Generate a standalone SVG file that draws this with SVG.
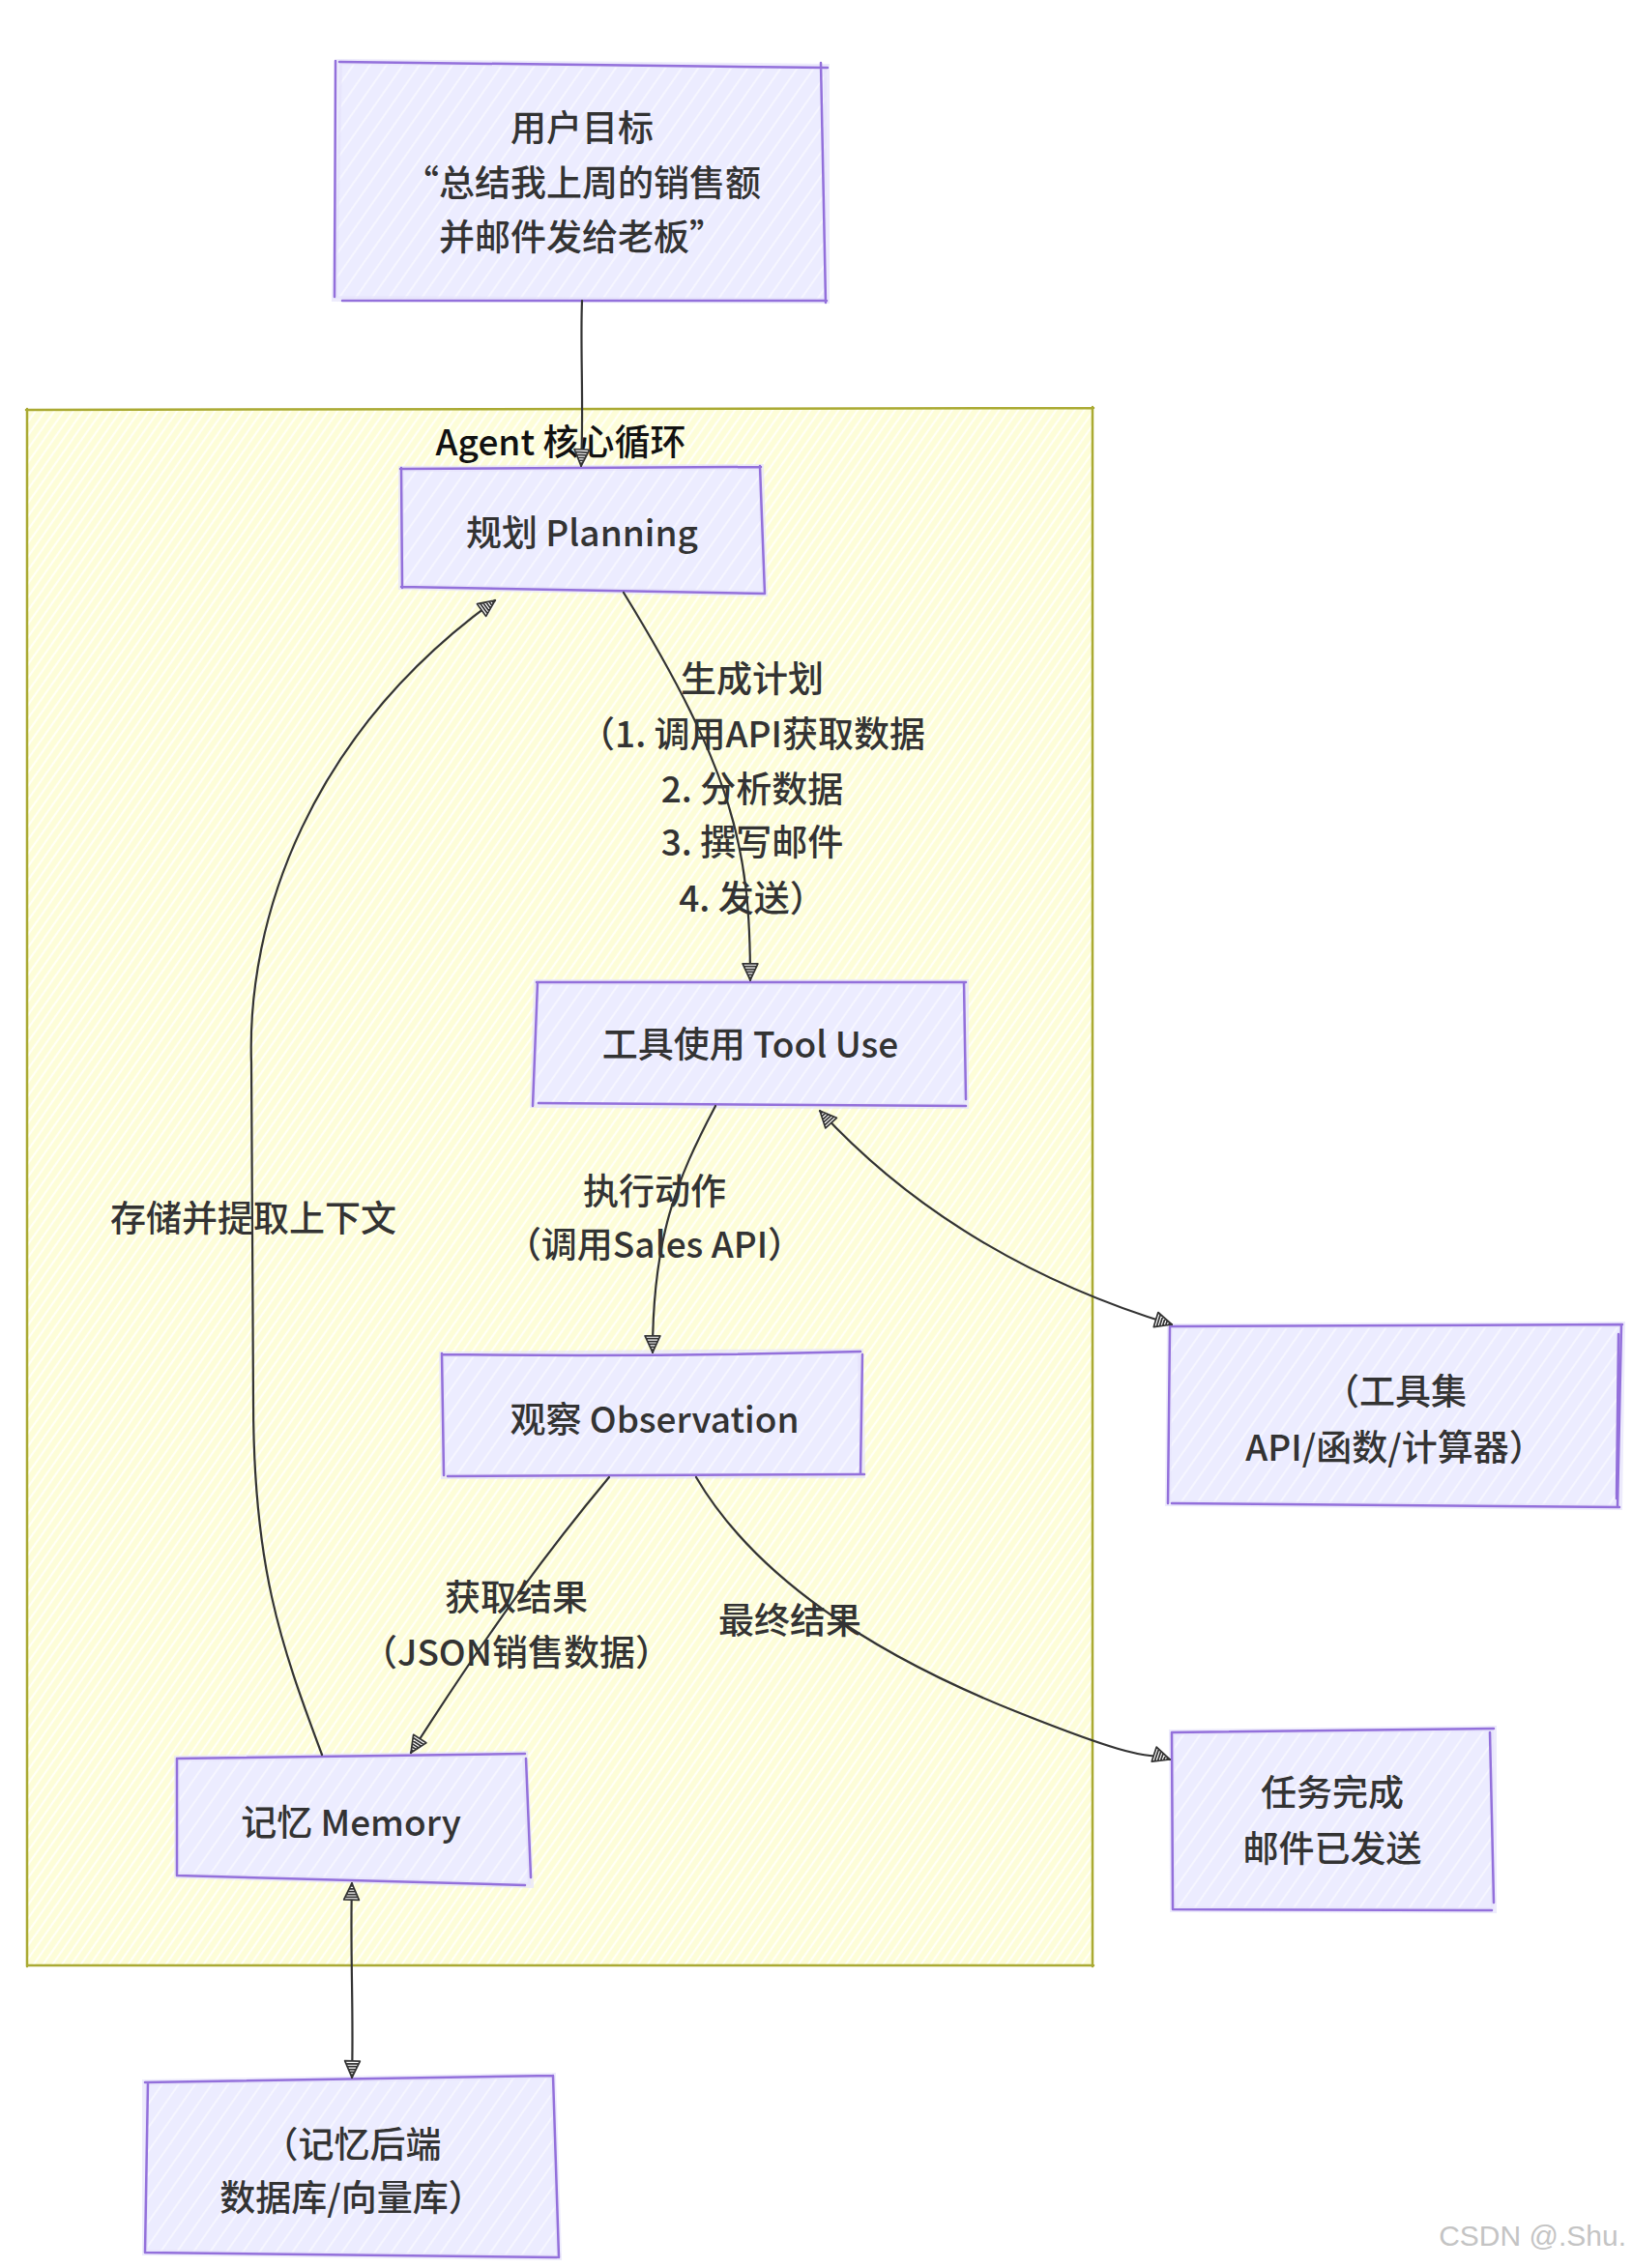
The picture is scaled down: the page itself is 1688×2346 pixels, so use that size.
<svg xmlns="http://www.w3.org/2000/svg" width="1688" height="2346" viewBox="0 0 1688 2346">
<style>
text{font-family:"Noto Sans CJK SC","Noto Sans",sans-serif;font-size:37px;font-weight:500;fill:#333;text-anchor:middle;dominant-baseline:central}
.title{fill:#111}
.nf{fill:url(#hN);stroke:#E6E2FB;stroke-width:6;stroke-opacity:.7}
.nb{fill:none;stroke:#9370DB;stroke-width:2.5;stroke-linecap:round}
.edge{fill:none;stroke:#333;stroke-width:2.2;stroke-linecap:round}
.wm{font-family:"Liberation Sans",sans-serif;font-size:30px;font-weight:400;fill:#c4c4c4;text-anchor:end}
</style>
<defs>
<pattern id="hN" patternUnits="userSpaceOnUse" width="14" height="14" patternTransform="rotate(35)">
<rect width="14" height="14" fill="#ECECFF"/>
<line x1="2" y1="0" x2="2" y2="14" stroke="#fff" stroke-width="2" opacity=".55"/>
</pattern>
<pattern id="hC" patternUnits="userSpaceOnUse" width="8" height="8" patternTransform="rotate(35)">
<rect width="8" height="8" fill="#fdfdd8"/>
<line x1="2" y1="0" x2="2" y2="8" stroke="#fff" stroke-width="2.2" opacity=".8"/>
</pattern>
<marker id="ah" viewBox="0 0 14 14" refX="13" refY="7" markerWidth="20" markerHeight="20" markerUnits="userSpaceOnUse" orient="auto-start-reverse">
<path d="M1,1.5 L13,7 L1,12.5 Z M3,2.5 L3,11.5 M5,3.3 L5,10.7 M7,4.2 L7,9.8 M9,5.2 L9,8.8 M11,6.1 L11,7.9" fill="#fff" stroke="#333" stroke-width="1.2" stroke-linejoin="round"/>
</marker>
</defs>
<rect width="1688" height="2346" fill="#fff"/>

<g id="cluster-agent">
<path d="M28,424 L1130,422 L1131,2033 L29,2034 Z" fill="url(#hC)"/>
<path d="M27,424 L1131,422 M1130,421 L1130,2034 M1131,2033 L29,2033 M28,2034 L28,423" fill="none" stroke="#aaaa33" stroke-width="2.5" stroke-linecap="round"/>
<text class="title" x="580" y="455">Agent 核心循环</text>
</g>

<g id="node-goal">
<path class="nf" d="M351,64 L855,69 L855,311 L346,309 Z"/>
<path class="nb" d="M351,64 L856,70 M849,65 L854,313 M354,311 L855,311 M347,63 L346,307"/>
<text x="602" y="130">用户目标</text>
<text x="602" y="187">“总结我上周的销售额</text>
<text x="602" y="243">并邮件发给老板”</text>
</g>

<g id="node-planning">
<path class="nf" d="M415,485 L787,483 L791,614 L415,607 Z"/>
<path class="nb" d="M414,485 L787,483 M786,482 L791,614 M415,607 L791,614 M415,484 L416,608"/>
<text x="602" y="549">规划 Planning</text>
</g>

<g id="node-tooluse">
<path class="nf" d="M555,1016 L999,1016 L999,1144 L551,1143 Z"/>
<path class="nb" d="M555,1016 L999,1016 M556,1016 L551,1144 M557,1141 L999,1144 M997,1016 L999,1137"/>
<text x="776" y="1078">工具使用 Tool Use</text>
</g>

<g id="node-observation">
<path class="nf" d="M457,1401 L890,1398 L892,1526 L459,1527 Z"/>
<path class="nb" d="M457,1401 Q670,1404 890,1398 M457,1400 L459,1526 M463,1527 L894,1525 M892,1401 L890,1525"/>
<text x="677" y="1466">观察 Observation</text>
</g>

<g id="node-memory">
<path class="nf" d="M183,1819 L543,1814 L549,1950 L183,1940 Z"/>
<path class="nb" d="M183,1819 L543,1814 M183,1819 L183,1940 M183,1940 L543,1950 M544,1819 L549,1942"/>
<text x="363" y="1883">记忆 Memory</text>
</g>

<g id="node-backend">
<path class="nf" d="M150,2154 L572,2147 L578,2335 L150,2330 Z"/>
<path class="nb" d="M150,2154 L572,2147 M153,2154 L150,2330 M150,2330 L576,2335 M572,2147 L578,2335"/>
<text x="364" y="2216">（记忆后端</text>
<text x="364" y="2271">数据库/向量库）</text>
</g>

<g id="node-toolset">
<path class="nf" d="M1210,1372 L1678,1370 L1675,1559 L1208,1555 Z"/>
<path class="nb" d="M1210,1372 L1678,1370 M1210,1373 L1208,1555 M1212,1555 L1675,1559 M1677,1371 L1673,1559 M1674,1380 L1672,1550"/>
<text x="1443" y="1437">（工具集</text>
<text x="1443" y="1495">API/函数/计算器）</text>
</g>

<g id="node-done">
<path class="nf" d="M1212,1792 L1545,1788 L1545,1976 L1213,1975 Z"/>
<path class="nb" d="M1212,1792 L1545,1788 M1212,1792 L1213,1975 M1213,1975 L1543,1976 M1541,1792 L1545,1968"/>
<text x="1378" y="1852">任务完成</text>
<text x="1378" y="1910">邮件已发送</text>
</g>

<g id="connectors">
<path class="edge" d="M602,311 C600,360 604,420 601,482" marker-end="url(#ah)"/>
<path class="edge" d="M645,613 C760,800 776,880 776,1014" marker-end="url(#ah)"/>
<path class="edge" d="M740,1144 C700,1220 675,1280 675,1399" marker-end="url(#ah)"/>
<path class="edge" d="M848,1149 C950,1260 1080,1330 1212,1370" marker-start="url(#ah)" marker-end="url(#ah)"/>
<path class="edge" d="M630,1528 C570,1600 510,1680 425,1813" marker-end="url(#ah)"/>
<path class="edge" d="M720,1528 C780,1630 900,1710 1050,1770 S1180,1810 1210,1820" marker-end="url(#ah)"/>
<path class="edge" d="M333,1815 C290,1700 262,1620 262,1450 L260,1100 C255,950 320,760 512,621" marker-end="url(#ah)"/>
<path class="edge" d="M364,1948 C362,2020 366,2080 364,2149" marker-start="url(#ah)" marker-end="url(#ah)"/>
</g>

<g id="edge-labels">
<text x="778" y="700">生成计划</text>
<text x="778" y="757">（1. 调用API获取数据</text>
<text x="778" y="814">2. 分析数据</text>
<text x="778" y="869">3. 撰写邮件</text>
<text x="778" y="927">4. 发送）</text>
<text x="677" y="1230">执行动作</text>
<text x="677" y="1285">（调用Sales API）</text>
<text x="262" y="1258">存储并提取上下文</text>
<text x="534" y="1650">获取结果</text>
<text x="534" y="1707">（JSON销售数据）</text>
<text x="817" y="1674">最终结果</text>
</g>

<text class="wm" x="1682" y="2312">CSDN @.Shu.</text>
</svg>
